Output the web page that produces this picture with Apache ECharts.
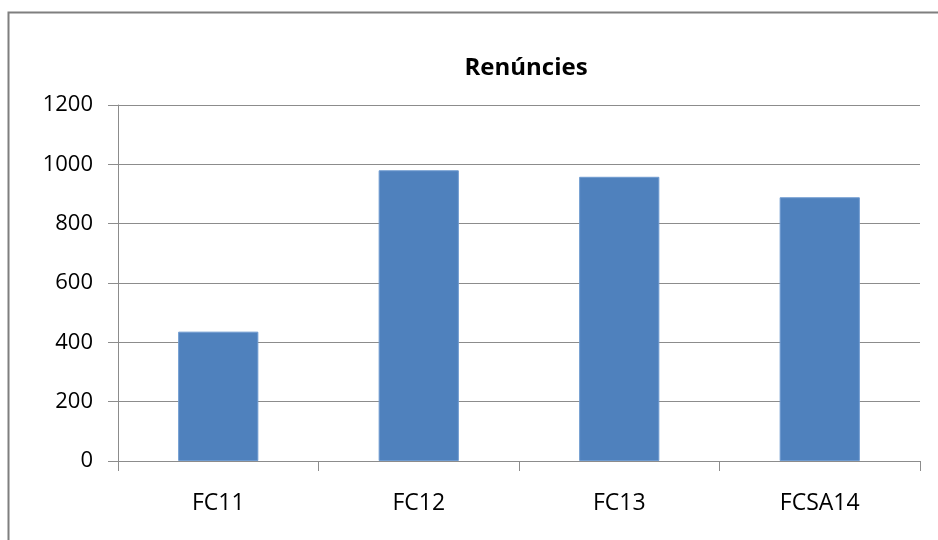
<!DOCTYPE html>
<html>
<head>
<meta charset="utf-8">
<script src="https://cdn.jsdelivr.net/npm/echarts@6/dist/echarts.min.js"></script>
<style>
  html, body { margin: 0; padding: 0; background: #fff; }
  #chart { width: 938px; height: 540px; }
</style>
</head>
<body>
<div id="chart"></div>
<script>
const categories = ['FC11', 'FC12', 'FC13', 'FCSA14'];
const renuncies = [436, 980, 958, 889];
const yTicks = [0, 200, 400, 600, 800, 1000, 1200];

const chart = echarts.init(document.getElementById('chart'), null, { renderer: 'canvas' });

const font = 'Open Sans, Liberation Sans, sans-serif';
const gray = '#8c8c8c';

chart.setOption({
  backgroundColor: '#fff',
  animation: false,
  graphic: [{
    type: 'rect',
    shape: { x: 8.5, y: 12.5, width: 940, height: 540 },
    style: { fill: 'none', stroke: '#7f7f7f', lineWidth: 2 }
  }],
  title: {
    text: 'Renúncies',
    left: 521,
    top: 51,
    textAlign: 'center',
    textStyle: { fontFamily: font, fontSize: 24, fontWeight: 'bold', color: '#000' }
  },
  grid: { left: 118, right: 18, top: 105, bottom: 79 },
  xAxis: {
    type: 'category',
    data: categories,
    axisLine: { lineStyle: { color: gray, width: 1 } },
    axisTick: { show: true, length: 10, lineStyle: { color: gray } },
    axisLabel: { margin: 31, fontFamily: font, fontSize: 23, color: '#000' }
  },
  yAxis: {
    type: 'value',
    min: yTicks[0],
    max: yTicks[yTicks.length - 1],
    interval: 200,
    axisLine: { show: true, lineStyle: { color: gray, width: 1 } },
    axisTick: { show: true, length: 10, lineStyle: { color: gray } },
    axisLabel: {
      margin: 25,
      fontFamily: font,
      fontSize: 22,
      color: '#000',
      formatter: (v) => String(v)
    },
    splitLine: { lineStyle: { color: gray, width: 1 } }
  },
  series: [{
    type: 'bar',
    data: renuncies,
    barWidth: '40%',
    itemStyle: { color: '#4f81bd', borderColor: '#6f9bd0', borderWidth: 1 }
  }]
});
</script>
</body>
</html>
